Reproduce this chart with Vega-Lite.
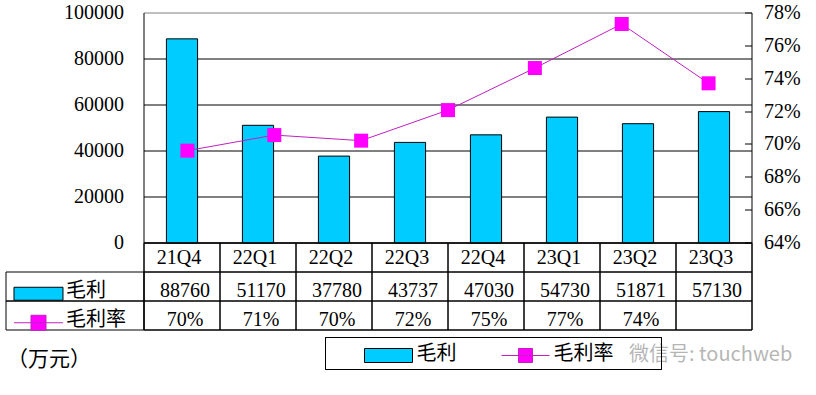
{
  "$schema": "https://vega.github.io/schema/vega-lite/v6.json",
  "background": "white",
  "padding": {"left": 5, "top": 3, "right": 5, "bottom": 5},
  "datasets": {
    "q": [
      {"季度": "21Q4", "毛利": 88760, "毛利率": 0.6962},
      {"季度": "22Q1", "毛利": 51170, "毛利率": 0.7057},
      {"季度": "22Q2", "毛利": 37780, "毛利率": 0.7023},
      {"季度": "22Q3", "毛利": 43737, "毛利率": 0.7209},
      {"季度": "22Q4", "毛利": 47030, "毛利率": 0.7465},
      {"季度": "23Q1", "毛利": 54730, "毛利率": 0.7733},
      {"季度": "23Q2", "毛利": 51871, "毛利率": 0.7372},
      {"季度": "23Q3", "毛利": 57130, "毛利率": null}
    ],
    "series": [{"s": "毛利"}, {"s": "毛利率"}]
  },
  "columns": 2,
  "spacing": 0,
  "bounds": "flush",
  "concat": [
    {
      "width": 138,
      "height": 230,
      "data": {"values": [{}]},
      "mark": {"type": "text"},
      "encoding": {"text": {"value": ""}}
    },
    {
      "width": 608,
      "height": 230,
      "data": {"name": "q"},
      "layer": [
        {
          "mark": {"type": "bar", "color": "#00CCFF", "stroke": "black", "strokeWidth": 1, "width": {"band": 0.41}},
          "encoding": {
            "x": {"field": "季度", "type": "nominal", "sort": null, "scale": {"paddingInner": 0, "paddingOuter": 0}, "axis": null},
            "y": {
              "field": "毛利", "type": "quantitative",
              "scale": {"domain": [0, 100000], "nice": false},
              "axis": {
                "orient": "left",
                "values": [0, 20000, 40000, 60000, 80000, 100000],
                "format": "d",
                "ticks": false,
                "labelPadding": 20,
                "labelFont": "Liberation Serif",
                "labelFontSize": 20,
                "labelColor": "black",
                "labelOverlap": false,
                "labelFlush": false,
                "domainColor": "black",
                "grid": true,
                "gridColor": {"condition": {"test": "datum.value >= 100000", "value": "#808080"}, "value": "black"},
                "gridOpacity": 1,
                "title": "（万元）",
                "titleAngle": 0,
                "titleX": -137,
                "titleY": 347,
                "titleAlign": "left",
                "titleBaseline": "middle",
                "titleFont": "Noto Sans CJK SC",
                "titleFontSize": 21,
                "titleFontWeight": "normal",
                "titleColor": "black"
              }
            }
          }
        },
        {
          "transform": [{"filter": "isValid(datum['毛利率'])"}],
          "encoding": {
            "x": {"field": "季度", "type": "nominal", "sort": null, "scale": {"paddingInner": 0, "paddingOuter": 0}, "axis": null},
            "y": {
              "field": "毛利率", "type": "quantitative",
              "scale": {"domain": [0.64, 0.78], "zero": false, "nice": false},
              "axis": {
                "orient": "right",
                "values": [0.64, 0.66, 0.68, 0.7, 0.72, 0.74, 0.76, 0.78],
                "format": ".0%",
                "tickSize": -7,
                "tickColor": "black",
                "labelPadding": 19,
                "labelFont": "Liberation Serif",
                "labelFontSize": 20,
                "labelColor": "black",
                "labelOverlap": false,
                "labelFlush": false,
                "domainColor": "black",
                "grid": false,
                "title": "微信号: touchweb",
                "titleAngle": 0,
                "titleX": -123,
                "titleY": 342,
                "titleAlign": "left",
                "titleBaseline": "middle",
                "titleFont": "Noto Sans CJK SC",
                "titleFontSize": 20,
                "titleFontWeight": "normal",
                "titleColor": "#a8a8a8",
                "titleOpacity": 0.85
              }
            }
          },
          "layer": [
            {"mark": {"type": "line", "color": "#c020c0", "strokeWidth": 1}},
            {"mark": {"type": "point", "shape": "square", "filled": true, "size": 196, "opacity": 1, "color": "#FF00FF"}}
          ]
        }
      ],
      "resolve": {"scale": {"x": "independent", "y": "independent"}}
    },
    {
      "width": 138,
      "height": 87,
      "data": {"name": "series"},
      "layer": [
        {
          "mark": {"type": "rect", "fill": "white", "fillOpacity": 0, "stroke": "black", "strokeWidth": 1},
          "encoding": {
            "y": {"field": "s", "type": "nominal", "scale": {"domain": ["季度", "毛利", "毛利率"], "paddingInner": 0, "paddingOuter": 0}, "axis": null}
          }
        },
        {
          "mark": {"type": "point", "filled": true, "size": 100, "opacity": 1, "strokeWidth": 1},
          "encoding": {
            "x": {"datum": "sym", "type": "nominal", "scale": {"type": "point", "domain": ["sym"], "padding": 1, "align": 0.2355}, "axis": null},
            "y": {"field": "s", "type": "nominal", "bandPosition": 0.75, "scale": {"domain": ["季度", "毛利", "毛利率"], "paddingInner": 0, "paddingOuter": 0}, "axis": null},
            "shape": {"field": "s", "type": "nominal", "scale": {"domain": ["毛利", "毛利率"], "range": ["M-4.9,-1.3H4.9V1.3H-4.9Z", "M-4.9,0H4.9M-1.5,-1.5H1.5V1.5H-1.5Z"]}, "legend": null},
            "fill": {"field": "s", "type": "nominal", "scale": {"domain": ["毛利", "毛利率"], "range": ["#00CCFF", "#FF00FF"]}, "legend": null},
            "stroke": {"field": "s", "type": "nominal", "scale": {"domain": ["毛利", "毛利率"], "range": ["black", "#c020c0"]}, "legend": null}
          }
        },
        {
          "mark": {"type": "text", "align": "left", "baseline": "middle", "font": "Noto Sans CJK SC", "fontSize": 20, "color": "black", "dx": 27.5},
          "encoding": {
            "x": {"datum": "sym", "type": "nominal", "scale": {"type": "point", "domain": ["sym"], "padding": 1, "align": 0.2355}, "axis": null},
            "y": {"field": "s", "type": "nominal", "bandPosition": 0.65, "scale": {"domain": ["季度", "毛利", "毛利率"], "paddingInner": 0, "paddingOuter": 0}, "axis": null},
            "text": {"field": "s"}
          }
        }
      ]
    },
    {
      "width": 608,
      "height": 87,
      "data": {"name": "q"},
      "layer": [
        {
          "mark": {"type": "rect", "fill": "white", "fillOpacity": 0, "stroke": "black", "strokeWidth": 1},
          "encoding": {
            "x": {"field": "季度", "type": "nominal", "sort": null, "scale": {"paddingInner": 0, "paddingOuter": 0}, "axis": null}
          }
        },
        {
          "data": {"values": [{"row": "季度"}, {"row": "毛利"}, {"row": "毛利率"}]},
          "mark": {"type": "rect", "fill": "white", "fillOpacity": 0, "stroke": "black", "strokeWidth": 1},
          "encoding": {
            "y": {"field": "row", "type": "nominal", "scale": {"domain": ["季度", "毛利", "毛利率"], "paddingInner": 0, "paddingOuter": 0}, "axis": null}
          }
        },
        {
          "transform": [
            {"fold": ["季度"], "as": ["row", "v"]}
          ],
          "mark": {"type": "text", "baseline": "middle", "font": "Liberation Serif", "fontSize": 20, "color": "black", "dx": -3},
          "encoding": {
            "x": {"field": "季度", "type": "nominal", "sort": null, "axis": null},
            "y": {"field": "row", "type": "nominal", "bandPosition": 0.5, "axis": null},
            "text": {"field": "v"}
          }
        },
        {
          "transform": [
            {"fold": ["毛利", "毛利率"], "as": ["row", "v"]},
            {"calculate": "datum.row == '毛利' ? format(datum.v, 'd') : (isValid(datum.v) ? format(datum.v, '.0%') : '')", "as": "label"}
          ],
          "mark": {"type": "text", "baseline": "middle", "font": "Liberation Serif", "fontSize": 20, "color": "black", "dx": 3},
          "encoding": {
            "x": {"field": "季度", "type": "nominal", "sort": null, "axis": null},
            "y": {"field": "row", "type": "nominal", "bandPosition": 0.67, "axis": null},
            "text": {"field": "label"}
          }
        }
      ]
    },
    {
      "width": 138,
      "height": 48,
      "data": {"values": [{}]},
      "mark": {"type": "text"},
      "encoding": {"text": {"value": ""}}
    },
    {
      "width": 608,
      "height": 48,
      "data": {"name": "series"},
      "layer": [
        {
          "mark": {"type": "rect", "fill": "white", "fillOpacity": 0, "stroke": "black", "strokeWidth": 1},
          "encoding": {
            "x": {"datum": "box", "type": "nominal", "scale": {"type": "band", "domain": ["box"], "range": [181.5, 517.5], "paddingInner": 0, "paddingOuter": 0}, "axis": null},
            "y": {"datum": "box", "type": "nominal", "scale": {"type": "band", "domain": ["box"], "range": [7.5, 39.5], "paddingInner": 0, "paddingOuter": 0}, "axis": null}
          }
        },
        {
          "mark": {"type": "point", "filled": true, "size": 100, "opacity": 1, "strokeWidth": 1},
          "encoding": {
            "x": {"field": "s", "type": "nominal", "scale": {"type": "point", "domain": ["毛利", "毛利率"], "range": [244.5, 381.5], "padding": 0}, "axis": null},
            "y": {"datum": "box", "type": "nominal", "scale": {"type": "band", "domain": ["box"], "range": [9.5, 41.5], "paddingInner": 0, "paddingOuter": 0}, "axis": null},
            "shape": {"field": "s", "type": "nominal", "scale": {"domain": ["毛利", "毛利率"], "range": ["M-4.8,-1.4H4.8V1.4H-4.8Z", "M-4.8,0H4.8M-1.4,-1.4H1.4V1.4H-1.4Z"]}, "legend": null},
            "fill": {"field": "s", "type": "nominal", "scale": {"domain": ["毛利", "毛利率"], "range": ["#00CCFF", "#FF00FF"]}, "legend": null},
            "stroke": {"field": "s", "type": "nominal", "scale": {"domain": ["毛利", "毛利率"], "range": ["black", "#c020c0"]}, "legend": null}
          }
        },
        {
          "mark": {"type": "text", "align": "left", "baseline": "middle", "font": "Noto Sans CJK SC", "fontSize": 20, "color": "black", "dx": 28},
          "encoding": {
            "x": {"field": "s", "type": "nominal", "scale": {"type": "point", "domain": ["毛利", "毛利率"], "range": [244.5, 381.5], "padding": 0}, "axis": null},
            "y": {"datum": "box", "type": "nominal", "scale": {"type": "band", "domain": ["box"], "range": [7.5, 39.5], "paddingInner": 0, "paddingOuter": 0}, "axis": null},
            "text": {"field": "s"}
          }
        }
      ],
      "resolve": {"scale": {"x": "independent", "y": "independent", "shape": "independent", "fill": "independent", "stroke": "independent"}}
    }
  ],
  "config": {
    "view": {"stroke": null},
    "axis": {"translate": 0}
  }
}
